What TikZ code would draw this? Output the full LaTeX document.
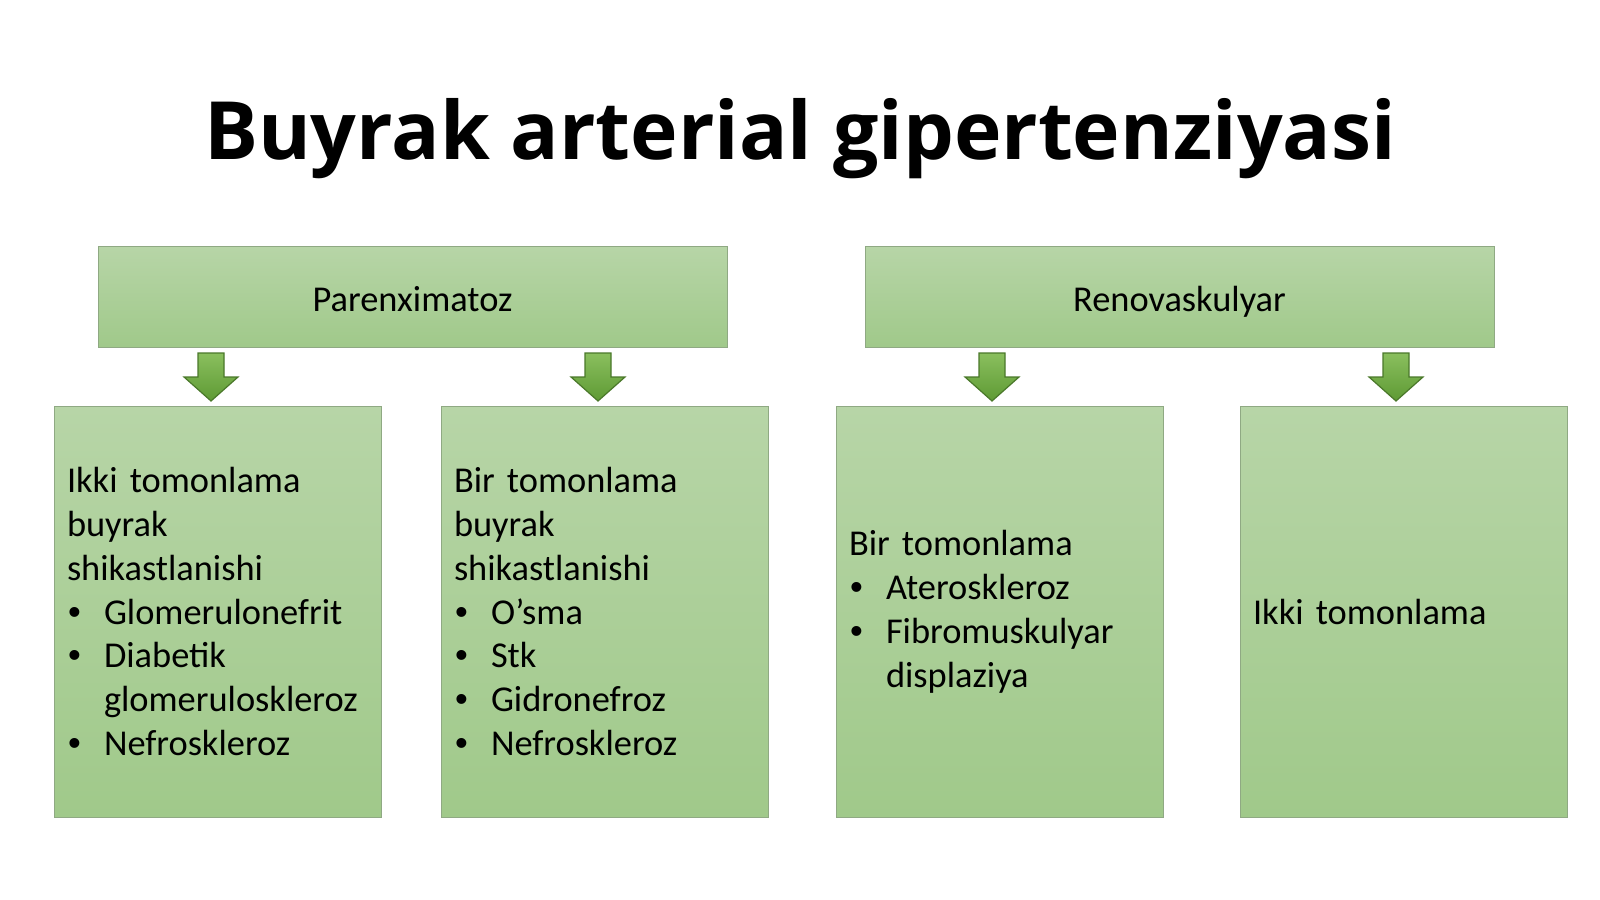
\documentclass[tikz,border=0pt]{standalone}
\usepackage{fontspec}
\usepackage{tikz}
\usetikzlibrary{%
  arrows.meta,%
  shapes.misc
}
\setmainfont{Carlito}
\newfontfamily\titlefont{Open Sans}
\newfontfamily\bulfont{Liberation Sans}
\definecolor{boxtop}{HTML}{B7D5A7}
\definecolor{boxbot}{HTML}{A0C98A}
\definecolor{boxline}{HTML}{8FA983}
\definecolor{arrtop}{HTML}{8ABF5E}
\definecolor{arrbot}{HTML}{5E9A34}
\definecolor{arrline}{HTML}{4A782A}
\newcommand{\itm}{\makebox[18.5pt][l]{\hspace{0.5pt}{\bulfont •}}}
\newcommand{\itmgap}{\hspace*{18.5pt}}

\begin{document}
\begin{tikzpicture}[x=0.5pt,y=-0.5pt,
    greenbox/.style={draw=boxline,line width=0.4pt,top color=boxtop,bottom color=boxbot,
      font=\fontsize{18.2}{21.95}\selectfont},
    headbox/.style={greenbox,minimum width=314.5pt,minimum height=50.5pt,
      text height=18pt,text depth=3pt},
    listbox/.style={greenbox,minimum width=163.5pt,minimum height=205.5pt,
      inner xsep=6.5pt,text width=150.5pt,align=left}]
      \useasboundingbox (0,0) rectangle (1600,899);
      \node [anchor=base,font=\titlefont\bfseries\fontsize{40.2}{48}\selectfont]
        (title) at (800,160) {Buyrak arterial gipertenziyasi};
      % top row
      \node [headbox] (paren) at (412.5,296.5) {Parenximatoz};
      \node [headbox] (renov) at (1179.5,296.5) {Renovaskulyar};
      % block arrows
      \foreach \x in {211,598,992,1396}
        \shade [top color=arrtop,bottom color=arrbot,draw=arrline,line width=0.6pt]
          (\x-13,353) -- (\x+13,353) -- (\x+13,377) -- (\x+27,377) -- (\x,401)
          -- (\x-27,377) -- (\x-13,377) -- cycle;
      % bottom row
      \node [listbox] (ikki) at (217.5,611.5) {Ikki tomonlama\\ buyrak\\ shikastlanishi\\
        \itm Glomerulonefrit\\ \itm Diabetik\\ \itmgap glomeruloskleroz\\ \itm Nefroskleroz};
      \node [listbox] (bir) at (604.5,611.5) {Bir tomonlama\\ buyrak\\ shikastlanishi\\
        \itm O’sma\\ \itm Stk\\ \itm Gidronefroz\\ \itm Nefroskleroz};
      \node [listbox] (birren) at (999.5,611.5) {Bir tomonlama\\
        \itm Ateroskleroz\\ \itm Fibromuskulyar\\ \itmgap displaziya};
      \node [listbox] (ikkiren) at (1403.5,611.5) {Ikki tomonlama};
    \end{tikzpicture}
\end{document}
